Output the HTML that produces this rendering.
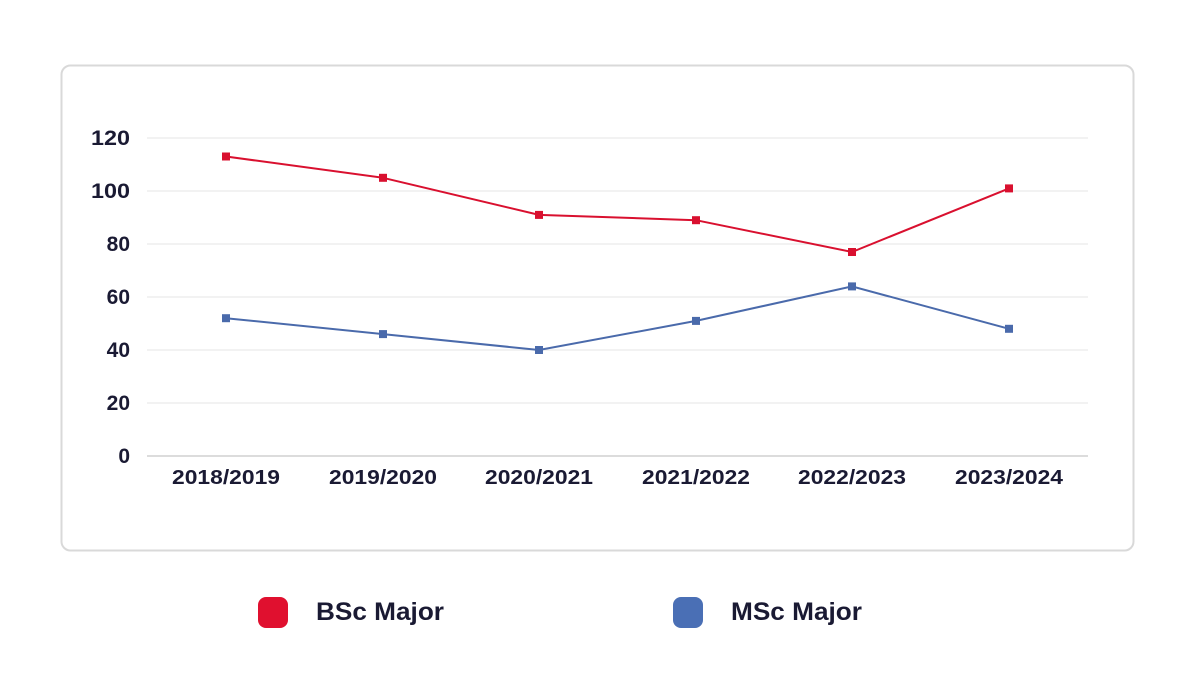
<!DOCTYPE html>
<html><head><style>body{margin:0;background:#fff}svg{display:block}</style></head><body>
<svg width="1200" height="693" xmlns="http://www.w3.org/2000/svg" font-family="Liberation Sans, sans-serif" font-weight="bold" fill="#1a1a33">
<rect x="61.5" y="65.5" width="1072" height="485" rx="9" fill="#fff" stroke="#d9d9d9" stroke-width="2"/>
<g stroke="#e6e6e6" stroke-width="1">
<line x1="147" y1="138" x2="1088" y2="138"/><line x1="147" y1="191" x2="1088" y2="191"/><line x1="147" y1="244" x2="1088" y2="244"/><line x1="147" y1="297" x2="1088" y2="297"/><line x1="147" y1="350" x2="1088" y2="350"/><line x1="147" y1="403" x2="1088" y2="403"/></g>
<line x1="147" y1="456" x2="1088" y2="456" stroke="#d0d0d0" stroke-width="1.5"/>
<g font-size="21" text-anchor="end">
<text x="130" y="145" textLength="39" lengthAdjust="spacingAndGlyphs">120</text><text x="130" y="198" textLength="39" lengthAdjust="spacingAndGlyphs">100</text><text x="130" y="251">80</text><text x="130" y="304">60</text><text x="130" y="357">40</text><text x="130" y="410">20</text><text x="130" y="463">0</text></g>
<g font-size="20" text-anchor="middle">
<text x="226" y="484" textLength="108" lengthAdjust="spacingAndGlyphs">2018/2019</text><text x="383" y="484" textLength="108" lengthAdjust="spacingAndGlyphs">2019/2020</text><text x="539" y="484" textLength="108" lengthAdjust="spacingAndGlyphs">2020/2021</text><text x="696" y="484" textLength="108" lengthAdjust="spacingAndGlyphs">2021/2022</text><text x="852" y="484" textLength="108" lengthAdjust="spacingAndGlyphs">2022/2023</text><text x="1009" y="484" textLength="108" lengthAdjust="spacingAndGlyphs">2023/2024</text></g>
<polyline fill="none" stroke="#d9102f" stroke-width="2" points="226,156.5 383,177.8 539,214.9 696,220.2 852,252 1009,188.4"/>
<g fill="#d9102f"><rect x="222" y="152.5" width="8" height="8"/><rect x="379" y="173.8" width="8" height="8"/><rect x="535" y="210.9" width="8" height="8"/><rect x="692" y="216.2" width="8" height="8"/><rect x="848" y="248" width="8" height="8"/><rect x="1005" y="184.4" width="8" height="8"/></g>
<polyline fill="none" stroke="#4a6aab" stroke-width="2" points="226,318.2 383,334.1 539,350 696,320.9 852,286.4 1009,328.8"/>
<g fill="#4a6aab"><rect x="222" y="314.2" width="8" height="8"/><rect x="379" y="330.1" width="8" height="8"/><rect x="535" y="346" width="8" height="8"/><rect x="692" y="316.9" width="8" height="8"/><rect x="848" y="282.4" width="8" height="8"/><rect x="1005" y="324.8" width="8" height="8"/></g>
<rect x="258" y="597" width="30" height="31" rx="8" fill="#e0102f"/>
<text x="316" y="620" font-size="25" textLength="128" lengthAdjust="spacingAndGlyphs">BSc Major</text>
<rect x="673" y="597" width="30" height="31" rx="8" fill="#4a6fb5"/>
<text x="731" y="620" font-size="25" textLength="131" lengthAdjust="spacingAndGlyphs">MSc Major</text>
</svg>
</body></html>
